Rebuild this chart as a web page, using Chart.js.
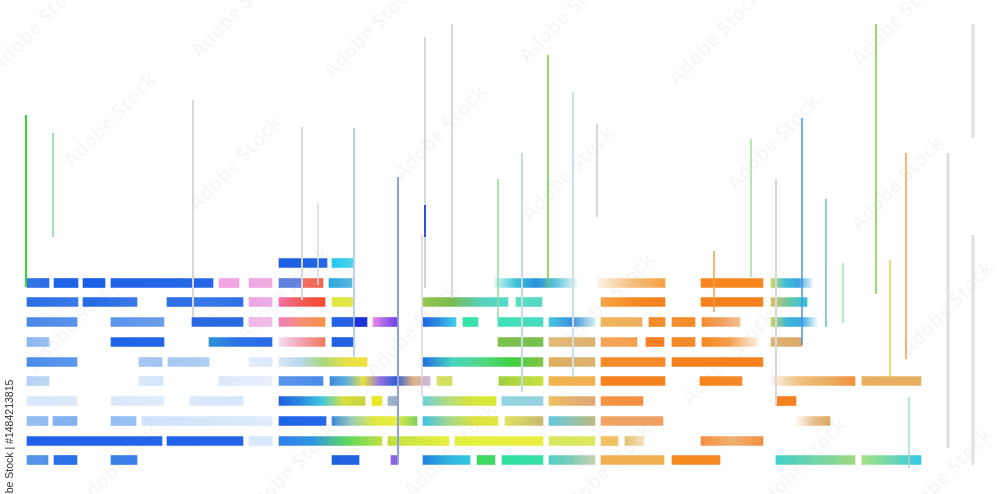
<!DOCTYPE html>
<html><head><meta charset="utf-8">
<script src="https://cdn.jsdelivr.net/npm/chart.js@4/dist/chart.umd.min.js"></script>
<style>
html,body{margin:0;padding:0;background:#fff;overflow:hidden}
#wrap{position:relative;width:1000px;height:494px;overflow:hidden}
#c{position:absolute;left:0;top:0;z-index:2}
.wm{position:absolute;z-index:1;white-space:nowrap;font:bold 20px/22px "Open Sans","Liberation Sans",Arial,sans-serif;color:rgba(0,0,0,0.035);text-shadow:0 0 4px #fff;transform:translate(-50%,-50%) rotate(-46deg)}
#credit{position:absolute;z-index:3;left:3px;top:512px;white-space:nowrap;font:10.5px/12px "Liberation Sans",Arial,sans-serif;color:#333;transform-origin:0 0;transform:rotate(-90deg)}
</style></head><body>
<div id="wrap"><canvas id="c" width="1000" height="494"></canvas><div id="credit">Adobe Stock | #1484213815</div></div>
<script>
// Row positions (vertical value of each row)
const rowY = [263, 283, 302, 322, 342, 362, 381, 401, 421, 441, 460];

// Bars per row: [start, end]
const bars0 = [[279,327],[332,353]];
const bars1 = [[27,49],[54,78],[83,105],[111,213],[219,239],[249,272],[279,302],[302,323],[329,352],[495,577],[598,665],[701,763],[771,812]];
const bars2 = [[27,78],[83,137],[167,192],[194,243],[249,272],[279,325],[332,353],[423,508],[516,542],[601,665],[701,763],[771,807]];
const bars3 = [[27,77],[111,164],[192,243],[249,272],[279,325],[332,355],[355,367],[373,398],[423,456],[463,478],[498,543],[549,595],[601,642],[649,665],[672,695],[702,740],[771,817]];
const bars4 = [[27,49],[111,164],[209,272],[279,325],[332,353],[498,543],[549,595],[601,637],[646,664],[672,695],[702,758],[771,802]];
const bars5 = [[27,77],[139,162],[168,209],[249,272],[279,367],[423,543],[549,595],[601,665],[672,763]];
const bars6 = [[27,49],[139,163],[219,272],[279,323],[330,430],[437,452],[499,543],[549,595],[601,665],[700,742],[772,855],[862,921]];
const bars7 = [[27,77],[111,164],[190,243],[279,365],[372,382],[388,398],[423,496],[502,543],[549,595],[601,643],[776,796]];
const bars8 = [[27,48],[53,77],[111,136],[142,272],[279,326],[332,417],[423,498],[505,543],[549,595],[601,663],[797,830]];
const bars9 = [[27,162],[167,243],[249,272],[279,382],[388,449],[455,543],[549,595],[601,618],[625,644],[701,763]];
const bars10 = [[27,48],[54,77],[111,137],[332,359],[391,398],[423,470],[477,495],[502,543],[549,595],[601,664],[672,720],[776,855],[862,921]];

// Vertical lines
const lineX      = [26, 53, 193, 302, 318, 354, 398, 422, 425, 425, 425, 452, 498, 522, 548, 573, 597, 714, 751, 776, 802, 826, 843, 876, 890, 906, 948, 973, 973, 909];
const lineTop    = [115,133,100, 127, 203, 128, 177, 235, 37,  205, 237, 24,  179, 153, 55,  92,  124, 251, 139, 179, 118, 199, 263, 24,  260, 153, 153, 24,  235, 397];
const lineBottom = [287,237,317, 300, 285, 357, 464, 397, 205, 237, 288, 298, 318, 392, 288, 377, 217, 312, 277, 405, 345, 327, 323, 294, 378, 359, 448, 138, 465, 468];

// Watermark texts and their centres
const wmText = 'Adobe Stock';
const wmX = [37, 237, 370, 565, 715, 898, 110, 235, 440, 568, 773, 897, 73, 283, 412, 608, 728, 947, 122, 290, 450, 605, 800, 945];
const wmY = [25, 10, 30, 15, 37, 18, 120, 163, 132, 173, 142, 183, 323, 293, 330, 300, 357, 308, 460, 470, 450, 470, 465, 475];

// ---- styles (kept apart from the data) ----
const barColors = [
 [['#1b5ee3','#2468e6'],['#1ec8ec','#52d2ee']],
 [['#3575e8','#2a6be8'],['#1f63e6','#1f63e6'],['#1a5fe6','#1a5fe6'],['#1e62e6','#2567e6'],['#f3a3e3','#f3a3e3'],['#f0a6e4','#eeaadf'],['#5a84e0','#6a80d8'],['#f27262','#f0664f'],['#2aa6dc','#5ab8e0'],['#d8f2f4','#40c6d8','#2a90d8','#60c8d8','#eef8f8'],['#fdf2e4','#f5c080','#f5a040'],['#f5861e','#f5861e'],['#d0d860','#44c0d8','#3aa4e0','#e6f2f8']],
 [['#2b6ee8','#3a78e8'],['#2468e6','#3a78ea'],['#2e70e6','#3070e6'],['#3a78ea','#2f70e8'],['#eea6e2','#eaaee8'],['#f070a8','#f45a50','#f84a2e'],['#dfe842','#e4e84a'],['#98c850','#7aba50','#58d0b8','#58d8d0'],['#58e0b8','#58d8c8'],['#f5a84a','#f58a24','#f58020'],['#f5821e','#f5821e'],['#e0c060','#68c8a8','#30c0e0']],
 [['#4a88e8','#5892ea'],['#5a94ea','#6a9eea'],['#2a68e2','#2a6ae2'],['#f3b5e6','#f0bce8'],['#f080c0','#f59070','#f8904a'],['#2064e8','#2a60e0'],['#1c2ed8','#1c34d8'],['#e88ae8','#a060e8','#7040e8'],['#2066e0','#3090e0','#40d0e8'],['#30e4a4','#40e0b0'],['#40e0b8','#48dcc0'],['#48c6dc','#3a90e0','#d0ecea'],['#f0b458','#eeb060'],['#f58a2a','#f5902e'],['#f5902e','#f58a2a'],['#f58a2a','#f0a060','#f2c090'],['#c8d460','#40b8d8','#3aa8e0','#f0f8fc']],
 [['#8cb8f0','#98c0f0'],['#1e64e8','#2466e8'],['#3090d8','#2a70e8','#2a6ae8'],['#f4dcf4','#f4a0b0','#f27a5a'],['#2060e0','#2664e0'],['#7cc24c','#74c04a'],['#e2ba78','#dcb070'],['#f5a456','#f5a050'],['#f58024','#f58024'],['#f58a28','#f58a28'],['#f5861e','#f5a050','#fdf0e4'],['#e2b272','#dcaa66']],
 [['#4a8ceb','#5c98ea'],['#a8c8f2','#a0c4f2'],['#a6c8f2','#b0cef2'],['#e2ecfa','#dce8fa'],['#d8e6f8','#b8d8e8','#a8d880','#e8e048','#f0e040'],['#2070e0','#48d4c0','#50d880','#40d040','#88c448'],['#e0b060','#dcb070'],['#f58a28','#f58a28'],['#f5821e','#f5821e']],
 [['#b4d0f6','#c0d8f6'],['#dae8fa','#d4e4fa'],['#dce8fa','#e8f0fc'],['#5a96ea','#4a8ae8'],['#3a88e0','#60b0d8','#e8e040','#9070e0','#3060d0','#e0b080','#c8b8e4'],['#d8e060','#d4e060'],['#a0d040','#c8e040'],['#f0b450','#f0b050'],['#f5821e','#f5821e'],['#f5821e','#f58a2a'],['#fbf0e0','#f0c080','#e8b060','#f59040'],['#e8b060','#e6b060']],
 [['#d8e8fa','#dce9fa'],['#dce8fa','#e0ecfa'],['#dde9fa','#d8e6fa'],['#1e60e0','#2a8ae0','#40c8e0','#d8e040','#c8d040'],['#e8e820','#e8e830'],['#a0b4cc','#98acc8'],['#70d0d8','#b0dc80','#d8e440','#d8e830'],['#90d4e0','#98d0e0'],['#f0c060','#e4b070','#e0a870'],['#f59442','#f59040'],['#f5821e','#f5821e']],
 [['#94bef2','#90bcf0'],['#84b2f0','#80b0f0'],['#94bef2','#98c0f2'],['#cfe2fa','#d6e6fa','#e0ecfb'],['#1e64e8','#2468e8'],['#3a8ae0','#a0d0b0','#e0e840','#e8ee40','#80d060'],['#40c0e0','#a0d890','#d8e040','#e4e840'],['#e0e060','#c8b870'],['#60c8e0','#90c4b0','#c0b880'],['#f2a464','#f0a060'],['#fff6ec','#e8c090','#d8a860']],
 [['#1e60e8','#2464e8'],['#2062e8','#2464e8'],['#dae8fa','#d8e6fa'],['#3080e8','#3096e0','#60d860','#c0e040'],['#c0e040','#e8f040'],['#e0f040','#e8f040','#e8ee40'],['#d8e860','#dce860'],['#f2c060','#f0c060'],['#e6c070','#f4e0c0'],['#f39040','#f0b070','#f09040']],
 [['#5a94ea','#5090e8'],['#2a6ee8','#2a70e8'],['#3a80e8','#3a7ee8'],['#2060e0','#2264e0'],['#9060e0','#9466e0'],['#2080e0','#30b0e0','#30c8e0'],['#40d860','#40d868'],['#30e0a0','#36e0a8'],['#50d0c8','#80ccb8','#c8d0b0'],['#f0b050','#f0b050'],['#f58a20','#f58a22'],['#40d0c8','#70d4a8','#a0d880'],['#a0e080','#70d8b0','#30c8e8']]
];
const lineColors = ['#2ee02a','#8ad89a','#d8d8dc','#d8d8dc','#dcdce0','#a8c4f0','#8ca0e8','#d4d4dc','#d8d8dc','#3050e0','#d0d0e0','#dadada','#90dca0','#c4dce8','#6ad048','#cfdde6','#d8d8d8','#f5a040','#a0e0a0','#d8d8dc','#4a94e0','#6ac0c8','#a8e0b0','#78d040','#f0d040','#f5a040','#e0e0e2','#e0e0e2','#e0e0e2','#a8d8c8'];
const lineWidths = [2,1.5,2,2,1.5,1.5,2,1.5,2,2,2,2,1.5,2,1.5,2,2,1.5,1.5,2,1.5,1.5,1.5,1.5,1.5,1.5,3,3,3,1.5];

// watermark text elements
const wrap = document.getElementById('wrap');
wmX.forEach((x, i) => {
  const d = document.createElement('div');
  d.className = 'wm';
  d.textContent = wmText;
  d.style.left = x + 'px';
  d.style.top = wmY[i] + 'px';
  wrap.appendChild(d);
});

const allBars = [bars0,bars1,bars2,bars3,bars4,bars5,bars6,bars7,bars8,bars9,bars10];

function grad(ctx, stops){
  const chart = ctx.chart;
  if (!stops) return '#888';
  const raw = ctx.raw;
  if (!chart.chartArea || !raw || !chart.scales.x) return stops[0];
  const x0 = chart.scales.x.getPixelForValue(raw.x[0]);
  const x1 = chart.scales.x.getPixelForValue(raw.x[1]);
  if (!isFinite(x0) || !isFinite(x1) || x0 === x1) return stops[0];
  const g = chart.ctx.createLinearGradient(x0, 0, x1, 0);
  stops.forEach((c, i) => g.addColorStop(stops.length === 1 ? 0 : i / (stops.length - 1), c));
  return g;
}

const datasets = [];
allBars.forEach((bars, r) => {
  datasets.push({
    type: 'bar', indexAxis: 'y', order: 2,
    data: bars.map(b => ({ x: b, y: rowY[r] })),
    backgroundColor: ctx => grad(ctx, barColors[r][ctx.dataIndex]),
    barThickness: 9, grouped: false, borderWidth: 0, borderSkipped: false
  });
});
lineX.forEach((x, i) => {
  datasets.push({
    type: 'line', order: 0,
    data: [{ x: x, y: lineTop[i] }, { x: x, y: lineBottom[i] }],
    borderColor: lineColors[i], borderWidth: lineWidths[i],
    pointRadius: 0, fill: false, tension: 0
  });
});

new Chart(document.getElementById('c'), {
  type: 'bar',
  data: { datasets },
  options: {
    responsive: false, animation: false, devicePixelRatio: 1,
    layout: { padding: 0 },
    plugins: { legend: { display: false }, tooltip: { enabled: false } },
    scales: {
      x: { type: 'linear', min: 0, max: 1000, display: false, offset: false, grid: { offset: false } },
      y: { type: 'linear', min: 0, max: 494, reverse: true, display: false, offset: false, grid: { offset: false } }
    }
  }
});
</script>
</body></html>
